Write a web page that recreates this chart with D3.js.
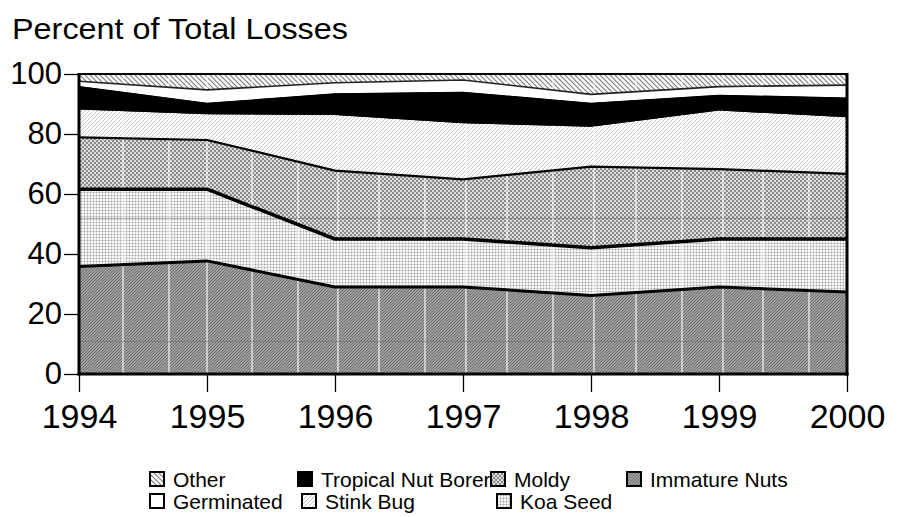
<!DOCTYPE html>
<html>
<head>
<meta charset="utf-8">
<script src="https://cdn.jsdelivr.net/npm/d3@7/dist/d3.min.js"></script>
<style>
  html, body { margin: 0; padding: 0; background: #fff; }
  svg { display: block; font-family: "Liberation Sans", Arial, sans-serif; }
</style>
</head>
<body>
<svg id="chart" width="907" height="517"></svg>
<script>
// ---- data ----
const years = [1994, 1995, 1996, 1997, 1998, 1999, 2000];
const immatureNuts     = [35.8, 37.7, 29.0, 29.0, 26.2, 29.0, 27.3];
const koaSeed          = [25.8, 23.9, 16.0, 16.0, 15.9, 16.0, 17.7];
const moldy            = [17.3, 16.4, 22.8, 19.9, 27.0, 23.3, 21.7];
const stinkBug         = [9.3, 8.6, 18.5, 18.7, 13.3, 19.5, 18.9];
const tropicalNutBorer = [7.8, 3.8, 7.3, 10.5, 8.0, 5.3, 6.6];
const germinated       = [1.6, 4.3, 3.5, 3.9, 2.8, 2.7, 4.1];
const other            = [2.4, 5.3, 2.9, 2.0, 6.8, 4.2, 3.7];
const yTicks = [0, 20, 40, 60, 80, 100];
const xTicks = years;
const seriesNames = ["Immature Nuts", "Koa Seed", "Moldy", "Stink Bug", "Tropical Nut Borer", "Germinated", "Other"];
const seriesValues = [immatureNuts, koaSeed, moldy, stinkBug, tropicalNutBorer, germinated, other];
const legendRow1 = ["Other", "Tropical Nut Borer", "Moldy", "Immature Nuts"];
const legendRow2 = ["Germinated", "Stink Bug", "Koa Seed"];
const minorGridYears = [1994.344, 1994.703, 1995.0, 1995.352, 1995.711, 1996.023, 1996.344, 1996.703,
  1997.023, 1997.344, 1997.703, 1998.023, 1998.352, 1998.711, 1999.031, 1999.344, 1999.703];
const faintLevels = [10.8, 51.9];

// ---- build table ----
const table = years.map((yr, i) => {
  const row = { year: yr };
  seriesNames.forEach((n, k) => row[n] = seriesValues[k][i]);
  return row;
});

const svg = d3.select("#chart");
const L = 79, R = 847, T = 74, B = 374;
const x = d3.scaleLinear().domain([1994, 2000]).range([L, R]);
const y = d3.scaleLinear().domain([0, 100]).range([B, T]);

// ---- patterns ----
const defs = svg.append("defs");
function hatch(id, bg, stroke, size, dir, sw) {
  const p = defs.append("pattern").attr("id", id).attr("patternUnits", "userSpaceOnUse")
    .attr("width", size).attr("height", size);
  p.append("rect").attr("width", size).attr("height", size).attr("fill", bg);
  if (dir === "/") {
    p.append("path").attr("d", `M0,${size} L${size},0 M${-size/2},${size/2} L${size/2},${-size/2} M${size/2},${size*1.5} L${size*1.5},${size/2}`)
      .attr("stroke", stroke).attr("stroke-width", sw);
  } else {
    p.append("path").attr("d", `M0,0 L${size},${size} M${-size/2},${size/2} L${size/2},${size*1.5} M${size/2},${-size/2} L${size*1.5},${size/2}`)
      .attr("stroke", stroke).attr("stroke-width", sw);
  }
}
hatch("pOther", "#ffffff", "#7a7a7a", 5, "\\", 1.1);
hatch("pStink", "#ffffff", "#c4c4c4", 4, "/", 1);
hatch("pImmature", "#a0a0a0", "#6c6c6c", 3, "/", 1);
(function () {
  const p = defs.append("pattern").attr("id", "pMoldy").attr("patternUnits", "userSpaceOnUse")
    .attr("width", 4).attr("height", 4);
  p.append("rect").attr("width", 4).attr("height", 4).attr("fill", "#dcdcdc");
  p.append("rect").attr("width", 2).attr("height", 2).attr("fill", "#8a8a8a");
  p.append("rect").attr("x", 2).attr("y", 2).attr("width", 2).attr("height", 2).attr("fill", "#8a8a8a");
})();
(function () {
  const p = defs.append("pattern").attr("id", "pKoa").attr("patternUnits", "userSpaceOnUse")
    .attr("width", 3).attr("height", 3);
  p.append("rect").attr("width", 3).attr("height", 3).attr("fill", "#f6f6f6");
  p.append("rect").attr("width", 3).attr("height", 1).attr("fill", "#d4d4d4");
  p.append("rect").attr("width", 1).attr("height", 3).attr("fill", "#d4d4d4");
  p.append("rect").attr("width", 1).attr("height", 1).attr("fill", "#a8a8a8");
})();

const fills = {
  "Immature Nuts": "url(#pImmature)",
  "Koa Seed": "url(#pKoa)",
  "Moldy": "url(#pMoldy)",
  "Stink Bug": "url(#pStink)",
  "Tropical Nut Borer": "#000000",
  "Germinated": "#ffffff",
  "Other": "url(#pOther)"
};

// ---- stack ----
const stack = d3.stack().keys(seriesNames);
const layers = stack(table);
const area = d3.area().x(d => x(d.data.year)).y0(d => y(d[0])).y1(d => y(d[1]));
const topLine = d3.line().x(d => x(d.data.year)).y(d => y(d[1]));

svg.append("g").selectAll("path").data(layers).join("path")
  .attr("d", area).attr("fill", d => fills[d.key]).attr("stroke", "none");

// faint artifacts: white vertical minor lines and faint horizontal lines
svg.append("g").selectAll("line").data(minorGridYears).join("line")
  .attr("x1", d => x(d)).attr("x2", d => x(d)).attr("y1", y(0)).attr("y2", y(100))
  .attr("stroke", "#ffffff").attr("stroke-width", 1.2).attr("opacity", 0.9);
svg.append("g").selectAll("line").data(faintLevels).join("line")
  .attr("x1", L).attr("x2", R).attr("y1", d => y(d)).attr("y2", d => y(d))
  .attr("stroke", "#6a6a6a").attr("stroke-width", 1).attr("opacity", 0.55);

// redraw black layer above the minor lines
svg.append("path").datum(layers[4]).attr("d", area).attr("fill", "#000");

// boundary lines
const lineStyles = [
  { k: 0, w: 3, c: "#000" },
  { k: 1, w: 3.5, c: "#000" },
  { k: 2, w: 2.2, c: "#000" },
  { k: 5, w: 1.6, c: "#222" }
];
svg.append("g").selectAll("path").data(lineStyles).join("path")
  .attr("d", s => topLine(layers[s.k])).attr("fill", "none")
  .attr("stroke", s => s.c).attr("stroke-width", s => s.w).attr("stroke-linejoin", "round");

// frame
svg.append("line").attr("x1", L).attr("x2", R).attr("y1", T).attr("y2", T).attr("stroke", "#000").attr("stroke-width", 2);
svg.append("line").attr("x1", L).attr("x2", L).attr("y1", T - 1).attr("y2", B + 1.5).attr("stroke", "#000").attr("stroke-width", 3);
svg.append("line").attr("x1", R).attr("x2", R).attr("y1", T - 1).attr("y2", B + 1.5).attr("stroke", "#000").attr("stroke-width", 3);
svg.append("line").attr("x1", L - 1.5).attr("x2", R + 1.5).attr("y1", B).attr("y2", B).attr("stroke", "#000").attr("stroke-width", 3);

// axes
const yAxis = d3.axisLeft(y).tickValues(yTicks).tickSize(14).tickPadding(2).tickFormat(d3.format("d"));
const gy = svg.append("g").attr("transform", `translate(${L - 1},0)`).call(yAxis);
gy.select(".domain").remove();
gy.selectAll(".tick line").attr("stroke", "#000").attr("stroke-width", 1.3);
gy.selectAll(".tick text").attr("font-size", 31).attr("fill", "#000").attr("font-family", "Liberation Sans, Arial, sans-serif");

const xAxis = d3.axisBottom(x).tickValues(xTicks).tickSize(17).tickPadding(12).tickFormat(d3.format("d"));
const gx = svg.append("g").attr("transform", `translate(0,${B + 1})`).call(xAxis);
gx.select(".domain").remove();
gx.selectAll(".tick line").attr("stroke", "#000").attr("stroke-width", 1.3);
gx.selectAll(".tick text").attr("font-size", 34).attr("fill", "#000").attr("font-family", "Liberation Sans, Arial, sans-serif");

// title
svg.append("text").attr("x", 12).attr("y", 39).attr("font-size", 30).attr("fill", "#000")
  .attr("textLength", 336).attr("lengthAdjust", "spacingAndGlyphs")
  .text("Percent of Total Losses");

// legend
const legendX1 = [150, 298, 491, 627];
const legendX2 = [150, 302, 497];
function legendItem(name, lx, ly) {
  const g = svg.append("g").attr("transform", `translate(${lx},${ly})`);
  g.append("rect").attr("x", 0).attr("y", -7).attr("width", 14).attr("height", 14)
    .attr("fill", fills[name]).attr("stroke", "#000").attr("stroke-width", 2);
  g.append("text").attr("x", 23).attr("y", 7.5).attr("font-size", 21).attr("fill", "#000").text(name);
}
legendRow1.forEach((n, i) => legendItem(n, legendX1[i], 479));
legendRow2.forEach((n, i) => legendItem(n, legendX2[i], 501));
</script>
</body>
</html>
